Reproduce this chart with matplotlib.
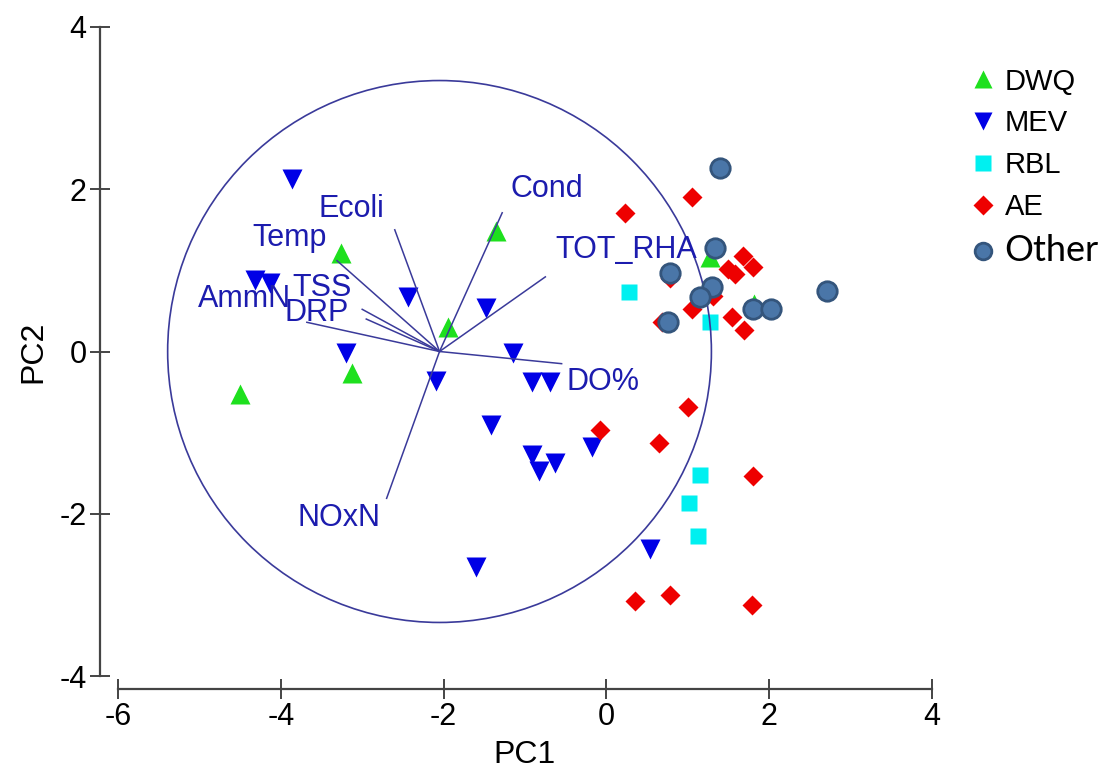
import matplotlib
matplotlib.use('Agg')
import matplotlib.pyplot as plt
from matplotlib.patches import Circle

plt.rcParams['font.family'] = ['Liberation Sans', 'DejaVu Sans']
plt.rcParams['axes.unicode_minus'] = False

# PCA scores for each group (PC1, PC2)
dwq_pc1 = [-4.50, -3.26, -3.13, -1.95, -1.36, 1.81, 1.27]
dwq_pc2 = [-0.52, 1.22, -0.27, 0.30, 1.49, 0.59, 1.16]

mev_pc1 = [-3.86, -4.32, -4.13, -2.44, -1.48, -3.20, -1.15, -2.09, -0.91,
           -0.69, -1.42, -0.91, -0.83, -0.63, -0.18, -1.60, 0.54]
mev_pc2 = [2.13, 0.88, 0.85, 0.67, 0.54, -0.02, -0.02, -0.36, -0.38,
           -0.38, -0.91, -1.28, -1.47, -1.38, -1.18, -2.66, -2.43]

rbl_pc1 = [0.28, 1.27, 1.15, 1.01, 1.12]
rbl_pc2 = [0.73, 0.36, -1.52, -1.87, -2.27]

ae_pc1 = [-0.08, 1.00, 0.65, 1.80, 0.35, 0.78, 1.79, 1.05, 0.23, 0.78,
          1.05, 0.68, 1.31, 1.54, 1.69, 1.49, 1.68, 1.80, 1.58]
ae_pc2 = [-0.97, -0.69, -1.13, -1.53, -3.07, -3.00, -3.12, 1.90, 1.71, 0.90,
          0.53, 0.36, 0.69, 0.43, 0.26, 1.02, 1.18, 1.04, 0.95]

other_pc1 = [1.40, 1.33, 0.78, 1.30, 1.15, 1.80, 2.02, 2.71, 0.76]
other_pc2 = [2.26, 1.27, 0.97, 0.80, 0.67, 0.52, 0.52, 0.74, 0.36]

# Variable vectors (drawn from the centre of the correlation circle)
var_names = ['Ecoli', 'Cond', 'Temp', 'TSS', 'AmmN', 'DRP', 'TOT_RHA', 'DO%', 'NOxN']
var_x = [-2.60, -1.28, -3.31, -3.00, -3.68, -2.95, -0.75, -0.55, -2.70]
var_y = [1.50, 1.71, 1.12, 0.52, 0.36, 0.40, 0.92, -0.15, -1.81]
centre_x, centre_y = -2.05, 0.0
circle_r = 3.34

# label offsets from the vector tips, in points
label_off = [(-31, 15), (32, 17), (-34, 16), (-29, 15), (-45, 17),
             (-36, 4), (58, 19), (30, -13), (-34, -14)]

line_col = '#3a3a9a'
text_col = '#1c1cae'

fig = plt.figure(figsize=(11.09, 7.76), dpi=100)
ax = fig.add_axes([118/1109, 1 - 676/776, (932 - 118)/1109, (676 - 27)/776])

ax.plot(dwq_pc1, dwq_pc2, '^', color='#1ee01e', ms=14, mec='none', zorder=2)
ax.plot(mev_pc1, mev_pc2, 'v', color='#0000e6', ms=14, mec='none', zorder=2)
ax.plot(rbl_pc1, rbl_pc2, 's', color='#00f0f0', ms=12, mec='none', zorder=2)
ax.plot(ae_pc1, ae_pc2, 'D', color='#ee0000', ms=10.5, mec='none', zorder=2)

ax.add_patch(Circle((centre_x, centre_y), circle_r, fill=False,
                    ec=line_col, lw=1.2, zorder=3))
for name, vx, vy, off in zip(var_names, var_x, var_y, label_off):
    ax.plot([centre_x, vx], [centre_y, vy], color=line_col, lw=1.1, zorder=3)
    ax.annotate(name, (vx, vy), xytext=off, textcoords='offset points',
                ha='center', va='center', color=text_col, fontsize=22, zorder=4)

ax.plot(other_pc1, other_pc2, 'o', color='#4a76a8', ms=14, mec='#34557c',
        mew=2, zorder=5)

ax.set_xlim(-6, 4)
ax.set_ylim(-4, 4)
ax.set_xticks([-6, -4, -2, 0, 2, 4])
ax.set_yticks([-4, -2, 0, 2, 4])

for side in ['top', 'right']:
    ax.spines[side].set_visible(False)
ax.spines['left'].set_position(('outward', 13))
ax.spines['bottom'].set_position(('outward', 9))
for side in ['left', 'bottom']:
    ax.spines[side].set_color('#444444')
    ax.spines[side].set_linewidth(1.6)
ax.tick_params(direction='inout', length=15, width=1.4, color='#444444',
               labelsize=22, pad=2)

ax.set_xlabel('PC1', fontsize=23, labelpad=6)
ax.set_ylabel('PC2', fontsize=23, labelpad=8)

# legend
handles = [
    plt.Line2D([], [], ls='none', marker='^', color='#1ee01e', ms=13, mec='none'),
    plt.Line2D([], [], ls='none', marker='v', color='#0000e6', ms=13, mec='none'),
    plt.Line2D([], [], ls='none', marker='s', color='#00f0f0', ms=11, mec='none'),
    plt.Line2D([], [], ls='none', marker='D', color='#ee0000', ms=10, mec='none'),
    plt.Line2D([], [], ls='none', marker='o', color='#4a76a8', ms=12, mec='#34557c', mew=2),
]
leg = fig.legend(handles, ['DWQ', 'MEV', 'RBL', 'AE', 'Other'],
                 loc='upper left', bbox_to_anchor=(955/1109, 1 - 53/776),
                 frameon=False, fontsize=21, handlelength=0.9,
                 handletextpad=0.3, labelspacing=0.47, borderpad=0)
leg.get_texts()[4].set_fontfamily('Lato')
leg.get_texts()[4].set_fontsize(26)

fig.savefig('out.png', dpi=100, facecolor='white')
